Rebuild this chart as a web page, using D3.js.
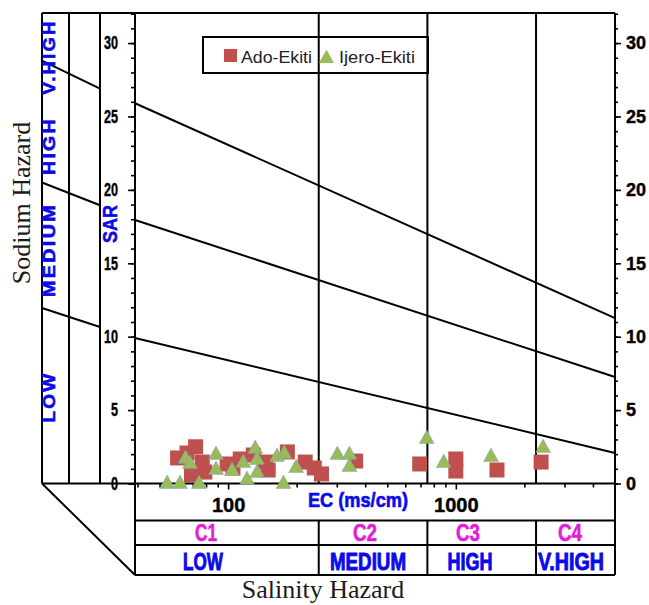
<!DOCTYPE html>
<html><head><meta charset="utf-8">
<script src="https://cdn.jsdelivr.net/npm/d3@7"></script>
<style>body{margin:0;background:#fff} svg{display:block}</style>
</head><body>
<svg id="chart" width="649" height="605"></svg>
<script>
// ---------- data ----------
const adoEC  = [72, 60, 66, 77, 69, 79, 99, 105, 113, 129, 146, 150, 182, 218, 239, 257, 363, 694, 1000, 1000, 1516, 2368];
const adoSAR = [2.5, 1.74, 2.08, 1.46, 0.58, 0.78, 1.33, 1.06, 1.67, 1.94, 1.46, 0.92, 2.15, 1.46, 1.06, 0.65, 1.53, 1.33, 1.67, 0.85, 0.92, 1.46];
const ijeroEC  = [54, 61.5, 65, 68, 74.5, 88.5, 88.5, 104, 116.5, 121, 131.5, 134, 134, 164, 176.5, 175, 199, 302, 341, 341, 745, 885, 1427, 2417];
const ijeroSAR = [0.1, 0.1, 1.81, 1.46, 0.1, 2.08, 1.06, 0.99, 1.53, 0.37, 2.49, 1.74, 0.85, 1.94, 2.15, 0.1, 1.19, 2.08, 2.08, 1.26, 3.17, 1.53, 1.94, 2.55];
const seriesNames = ["Ado-Ekiti", "Ijero-Ekiti"];
const salinityBounds = [250, 750, 2250];
const salinityClasses = ["C1", "C2", "C3", "C4"];
const salinityLabels = ["LOW", "MEDIUM", "HIGH", "V.HIGH"];
const sodiumLabels = ["LOW", "MEDIUM", "HIGH", "V.HIGH"];
const sarTicks = [0, 5, 10, 15, 20, 25, 30];
const ecTickLabels = [100, 1000];
const ecMinorTicks = [40, 50, 60, 70, 80, 90, 200, 300, 400, 500, 600, 700, 800, 900, 2000, 3000, 4000];
const boundaryLeftSAR  = [25.9, 17.95, 9.91];   // at EC domain min
const boundaryRightSAR = [11.27, 7.25, 2.08];   // at EC domain max
const panelLeftSAR  = [28.8, 20.5, 11.95];      // sodium panel outer edge
const panelRightSAR = [26.9, 18.95, 10.66];     // sodium panel inner edge

// ---------- layout ----------
const ecDomain = [39, 5000];
const Lx = {outer: 42, col1: 69, col2: 100, plotL: 135, plotR: 615};
const Ly = {top: 13, axis: 483.5, row1: 520.5, row2: 545, bottom: 575};
const classLabelX = [206, 365, 468, 570];
const classLabelW = [22, 24, 24, 24];
const hazardLabelX = [203, 368, 470, 571];
const hazardLabelW = [40, 76, 45, 66];
const sodiumLabelY = [397, 250, 146, 57];
const sodiumLabelLen = [51, 94, 58, 75];
const BLUE = "#0a0aea", MAG = "#e01ed8";
const NARROW = "'Liberation Sans Narrow','Arial Narrow','Liberation Sans',Arial,sans-serif";

const svg = d3.select("#chart");
const x = d3.scaleLog().domain(ecDomain).range([Lx.plotL, Lx.plotR]);
const y = d3.scaleLinear().domain([0, 32]).range([Ly.axis, 13.7]);

const g = svg.append("g");
const line = (x1, y1, x2, y2, w = 2) => g.append("line")
  .attr("x1", x1).attr("y1", y1).attr("x2", x2).attr("y2", y2)
  .attr("stroke", "#000").attr("stroke-width", w);

// frame
line(Lx.outer, Ly.top, Lx.plotR, Ly.top);
[Lx.outer, Lx.col1, Lx.col2].forEach(v => line(v, Ly.top, v, Ly.axis));
line(Lx.plotL, Ly.top, Lx.plotL, Ly.bottom);
line(Lx.plotR, Ly.top, Lx.plotR, Ly.bottom);
line(Lx.outer, Ly.axis, Lx.plotR, Ly.axis);
[Ly.row1, Ly.row2, Ly.bottom].forEach(v => line(Lx.plotL, v, Lx.plotR, v));
line(Lx.outer, Ly.axis, Lx.plotL, Ly.bottom);

// salinity dividers
salinityBounds.forEach(b => {
  line(x(b), Ly.top, x(b), Ly.axis);
  line(x(b), Ly.row1, x(b), Ly.bottom);
});

// sodium hazard boundary lines
boundaryLeftSAR.forEach((s, i) => {
  line(x(ecDomain[0]), y(s), x(ecDomain[1]), y(boundaryRightSAR[i]));
  line(Lx.outer, y(panelLeftSAR[i]), Lx.col2, y(panelRightSAR[i]));
});

// axes
function styleAxis(sel, size) {
  sel.select(".domain").remove();
  sel.selectAll("line").attr("stroke", "#000").attr("stroke-width", 1.6);
  sel.selectAll("text").attr("font-family", NARROW).attr("font-weight", "bold")
    .attr("font-size", size).attr("fill", "#000").attr("stroke", "#000").attr("stroke-width", 0.4);
}
const minorSAR = d3.range(0, 33);
svg.append("g").attr("transform", `translate(${Lx.plotL},0)`)
  .call(d3.axisLeft(y).tickValues(minorSAR).tickSize(4).tickFormat(""))
  .call(s => styleAxis(s, 17));
svg.append("g").attr("transform", `translate(${Lx.plotL},0)`)
  .call(d3.axisLeft(y).tickValues(sarTicks).tickSize(7).tickPadding(10))
  .call(s => styleAxis(s, 18))
  .call(s => s.selectAll("text").attr("textLength", d => String(d).length * 7).attr("lengthAdjust", "spacingAndGlyphs"));
svg.append("g").attr("transform", `translate(${Lx.plotR},0)`)
  .call(d3.axisRight(y).tickValues(minorSAR).tickSize(3).tickFormat(""))
  .call(s => styleAxis(s, 17));
svg.append("g").attr("transform", `translate(${Lx.plotR},0)`)
  .call(d3.axisRight(y).tickValues(sarTicks).tickSize(6).tickPadding(5))
  .call(s => styleAxis(s, 18));
svg.append("g").attr("transform", `translate(0,${Ly.axis})`)
  .call(d3.axisBottom(x).tickValues(ecMinorTicks).tickSize(4).tickFormat(""))
  .call(s => styleAxis(s, 17));
svg.append("g").attr("transform", `translate(0,${Ly.axis})`)
  .call(d3.axisBottom(x).tickValues(ecTickLabels).tickSize(6).tickFormat(d3.format("d")))
  .call(s => styleAxis(s, 20))
  .call(s => s.selectAll("text").attr("y", 28.5).attr("dy", 0));

// axis titles
svg.append("text").attr("x", 358).attr("y", 507).attr("text-anchor", "middle")
  .attr("font-family", NARROW).attr("font-weight", "bold").attr("font-size", 20)
  .attr("fill", BLUE).attr("stroke", BLUE).attr("stroke-width", 0.6)
  .attr("textLength", 100).attr("lengthAdjust", "spacingAndGlyphs")
  .text("EC (ms/cm)");

svg.append("text").attr("transform", "translate(117,224) rotate(-90)").attr("text-anchor", "middle")
  .attr("font-family", "'Liberation Sans',Arial,sans-serif").attr("font-weight", "bold").attr("font-size", 20)
  .attr("fill", BLUE).attr("stroke", BLUE).attr("stroke-width", 0.5)
  .attr("textLength", 38).attr("lengthAdjust", "spacingAndGlyphs").text("SAR");

sodiumLabels.forEach((t, i) => {
  svg.append("text").attr("transform", `translate(55,${sodiumLabelY[i]}) rotate(-90)`)
    .attr("text-anchor", "middle")
    .attr("font-family", "'Liberation Sans',Arial,sans-serif").attr("font-weight", "bold").attr("font-size", 17)
    .attr("letter-spacing", 2)
    .attr("fill", BLUE).attr("stroke", BLUE).attr("stroke-width", 0.6)
    .attr("textLength", sodiumLabelLen[i]).attr("lengthAdjust", "spacingAndGlyphs").text(t);
});

salinityClasses.forEach((t, i) => {
  svg.append("text").attr("x", classLabelX[i]).attr("y", 541).attr("text-anchor", "middle")
    .attr("font-family", NARROW).attr("font-weight", "bold").attr("font-size", 23)
    .attr("fill", MAG).attr("stroke", MAG).attr("stroke-width", 0.6)
    .attr("textLength", classLabelW[i]).attr("lengthAdjust", "spacingAndGlyphs").text(t);
  svg.append("text").attr("x", hazardLabelX[i]).attr("y", 570).attr("text-anchor", "middle")
    .attr("font-family", NARROW).attr("font-weight", "bold").attr("font-size", 23)
    .attr("fill", BLUE).attr("stroke", BLUE).attr("stroke-width", 0.9)
    .attr("textLength", hazardLabelW[i]).attr("lengthAdjust", "spacingAndGlyphs").text(salinityLabels[i]);
});

svg.append("text").attr("x", 323).attr("y", 598).attr("text-anchor", "middle")
  .attr("font-family", "'Liberation Serif','Times New Roman',serif").attr("font-size", 26)
  .attr("fill", "#1a1a1a").text("Salinity Hazard");
svg.append("text").attr("transform", "translate(30,203) rotate(-90)").attr("text-anchor", "middle")
  .attr("font-family", "'Liberation Serif','Times New Roman',serif").attr("font-size", 26)
  .attr("fill", "#1a1a1a").text("Sodium Hazard");

// points
const tri = "M0,-7L7.5,6.5L-7.5,6.5Z";
const ado = adoEC.map((v, i) => ({ec: v, sar: adoSAR[i]}));
const ije = ijeroEC.map((v, i) => ({ec: v, sar: ijeroSAR[i]}));
svg.append("g").selectAll("rect").data(ado).join("rect")
  .attr("x", d => x(d.ec) - 7.5).attr("y", d => y(d.sar) - 7.5)
  .attr("width", 15).attr("height", 15).attr("fill", "#c0504d");
svg.append("g").selectAll("path").data(ije).join("path")
  .attr("d", tri).attr("transform", d => `translate(${x(d.ec)},${y(d.sar)})`)
  .attr("fill", "#9bbb59").attr("stroke", "#6f9bd0").attr("stroke-width", 0.6).attr("stroke-opacity", 0.7);

// legend
const lg = svg.append("g");
lg.append("rect").attr("x", 203).attr("y", 37).attr("width", 225).attr("height", 36)
  .attr("fill", "none").attr("stroke", "#000").attr("stroke-width", 2);
lg.append("rect").attr("x", 224).attr("y", 49).attr("width", 13).attr("height", 13).attr("fill", "#c0504d");
lg.append("text").attr("x", 241).attr("y", 63).attr("font-family", "'Liberation Sans',Arial,sans-serif")
  .attr("font-size", 17).attr("fill", "#222").attr("textLength", 71).attr("lengthAdjust", "spacingAndGlyphs").text(seriesNames[0]);
lg.append("path").attr("d", tri).attr("transform", "translate(326.5,56.5)").attr("fill", "#9bbb59");
lg.append("text").attr("x", 339).attr("y", 63).attr("font-family", "'Liberation Sans',Arial,sans-serif")
  .attr("font-size", 17).attr("fill", "#222").attr("textLength", 76).attr("lengthAdjust", "spacingAndGlyphs").text(seriesNames[1]);
</script>
</body></html>
